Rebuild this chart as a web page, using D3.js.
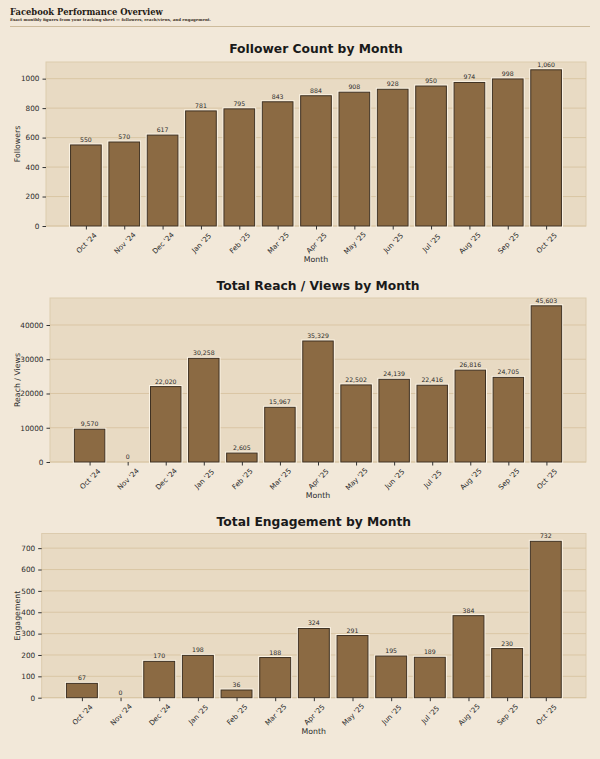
<!DOCTYPE html>
<html>
<head>
<meta charset="utf-8">
<script src="https://cdn.jsdelivr.net/npm/d3@7"></script>
<style>
  body { margin: 0; background: #f2e8d9; }
  svg { display: block; }
</style>
</head>
<body>
<div id="chart"></div>
<script>
// monthly figures
var months = ["Oct '24", "Nov '24", "Dec '24", "Jan '25", "Feb '25", "Mar '25", "Apr '25",
    "May '25", "Jun '25", "Jul '25", "Aug '25", "Sep '25", "Oct '25"];
var followers = [550, 570, 617, 781, 795, 843, 884, 908, 928, 950, 974, 998, 1060];
var reach = [9570, 0, 22020, 30258, 2605, 15967, 35329, 22502, 24139, 22416, 26816, 24705, 45603];
var engagement = [67, 0, 170, 198, 36, 188, 324, 291, 195, 189, 384, 230, 732];

var followerTicks = [0, 200, 400, 600, 800, 1000];
var reachTicks = [0, 10000, 20000, 30000, 40000];
var engagementTicks = [0, 100, 200, 300, 400, 500, 600, 700];

var width = 600, height = 759;
var svg = d3.select('#chart').append('svg')
    .attr('width', width)
    .attr('height', height);

svg.append('rect').attr('width', width).attr('height', height).attr('fill', '#f2e8d9');

// header
svg.append('text')
    .attr('x', 10).attr('y', 15)
    .attr('font-family', 'DejaVu Serif')
    .attr('font-weight', 'bold')
    .attr('font-size', 8.4)
    .attr('fill', '#1f1a14')
    .text('Facebook Performance Overview');
svg.append('text')
    .attr('x', 10).attr('y', 21)
    .attr('font-family', 'DejaVu Serif')
    .attr('font-weight', 'bold')
    .attr('font-size', 3.95)
    .attr('fill', '#3a3026')
    .text('Exact monthly figures from your tracking sheet \u2014 followers, reach/views, and engagement.');
svg.append('line')
    .attr('x1', 10).attr('x2', 590)
    .attr('y1', 26.5).attr('y2', 26.5)
    .attr('stroke', '#cdbb9c')
    .attr('stroke-width', 1);

var fmt = d3.format(',');

function drawChart(cfg) {
    var left = cfg.left, right = 586, top = cfg.top, bottom = cfg.bottom;

    // matplotlib-like 5% margins around the bars
    var x = d3.scaleLinear()
        .domain([-1.04, months.length - 1 + 1.04])
        .range([left, right]);
    var y = d3.scaleLinear()
        .domain([0, d3.max(cfg.values) * 1.05])
        .range([bottom, top]);

    var g = svg.append('g');

    g.append('rect')
        .attr('x', left).attr('y', top)
        .attr('width', right - left).attr('height', bottom - top)
        .attr('fill', '#e8dac3')
        .attr('stroke', '#dccbae')
        .attr('stroke-width', 1);

    // grid
    g.selectAll('line.grid')
        .data(cfg.ticks)
        .join('line')
        .attr('class', 'grid')
        .attr('x1', left).attr('x2', right)
        .attr('y1', function (d) { return y(d); })
        .attr('y2', function (d) { return y(d); })
        .attr('stroke', '#d8c4a2')
        .attr('stroke-width', 0.9);

    var bw = 0.8;
    var bars = g.selectAll('g.bar')
        .data(cfg.values)
        .join('g')
        .attr('class', 'bar');

    bars.append('rect')
        .attr('x', function (d, i) { return x(i - bw / 2); })
        .attr('y', function (d) { return y(d); })
        .attr('width', x(bw) - x(0))
        .attr('height', function (d) { return bottom - y(d); })
        .attr('fill', 'none')
        .attr('stroke', '#fbf3e4')
        .attr('stroke-width', function (d) { return d > 0 ? 3 : 0; });

    bars.append('rect')
        .attr('x', function (d, i) { return x(i - bw / 2); })
        .attr('y', function (d) { return y(d); })
        .attr('width', x(bw) - x(0))
        .attr('height', function (d) { return bottom - y(d); })
        .attr('fill', '#8b6a43')
        .attr('stroke', '#3f3122')
        .attr('stroke-width', function (d) { return d > 0 ? 1 : 0; });

    bars.append('text')
        .attr('x', function (d, i) { return x(i); })
        .attr('y', function (d) { return y(d) - 3; })
        .attr('text-anchor', 'middle')
        .attr('font-family', 'DejaVu Sans')
        .attr('font-size', 6.2)
        .attr('fill', '#2b2b2b')
        .text(function (d) { return fmt(d); });

    // y axis
    var yAxis = g.append('g')
        .attr('transform', `translate(${left},0)`)
        .call(d3.axisLeft(y).tickValues(cfg.ticks).tickSize(3.5).tickPadding(3).tickFormat(d3.format('d')));
    yAxis.select('.domain').remove();
    yAxis.selectAll('line').attr('stroke', '#333');
    yAxis.selectAll('text')
        .attr('font-family', 'DejaVu Sans')
        .attr('font-size', 7.3)
        .attr('fill', '#2b2b2b');

    // x axis, labels rotated around their centre
    var xAxis = g.append('g')
        .attr('transform', `translate(0,${bottom})`)
        .call(d3.axisBottom(x).tickValues(d3.range(months.length)).tickSize(3.5).tickPadding(0)
            .tickFormat(function (i) { return months[i]; }));
    xAxis.select('.domain').remove();
    xAxis.selectAll('line').attr('stroke', '#333');
    xAxis.selectAll('text')
        .attr('font-family', 'DejaVu Sans')
        .attr('font-size', 7.1)
        .attr('fill', '#2b2b2b')
        .attr('text-anchor', 'middle')
        .attr('y', 0)
        .attr('dy', '0.35em')
        .attr('transform', 'translate(0,17) rotate(-45)');

    g.append('text')
        .attr('x', (left + right) / 2)
        .attr('y', cfg.titleY)
        .attr('text-anchor', 'middle')
        .attr('font-family', 'DejaVu Sans')
        .attr('font-weight', 'bold')
        .attr('font-size', 12.3)
        .attr('fill', '#1a1a1a')
        .text(cfg.title);

    g.append('text')
        .attr('x', (left + right) / 2)
        .attr('y', bottom + 36)
        .attr('text-anchor', 'middle')
        .attr('font-family', 'DejaVu Sans')
        .attr('font-size', 7.8)
        .attr('fill', '#2b2b2b')
        .text('Month');

    g.append('text')
        .attr('transform', `translate(${cfg.labelX},${(top + bottom) / 2}) rotate(-90)`)
        .attr('text-anchor', 'middle')
        .attr('font-family', 'DejaVu Sans')
        .attr('font-size', 7.8)
        .attr('fill', '#2b2b2b')
        .text(cfg.ylabel);
}

drawChart({ values: followers, ticks: followerTicks, left: 46, top: 62, bottom: 226,
    title: 'Follower Count by Month', titleY: 53, ylabel: 'Followers', labelX: 20 });
drawChart({ values: reach, ticks: reachTicks, left: 50, top: 298, bottom: 462,
    title: 'Total Reach / Views by Month', titleY: 290, ylabel: 'Reach / Views', labelX: 20 });
drawChart({ values: engagement, ticks: engagementTicks, left: 41.7, top: 533.5, bottom: 697.7,
    title: 'Total Engagement by Month', titleY: 526, ylabel: 'Engagement', labelX: 20 });
</script>
</body>
</html>
